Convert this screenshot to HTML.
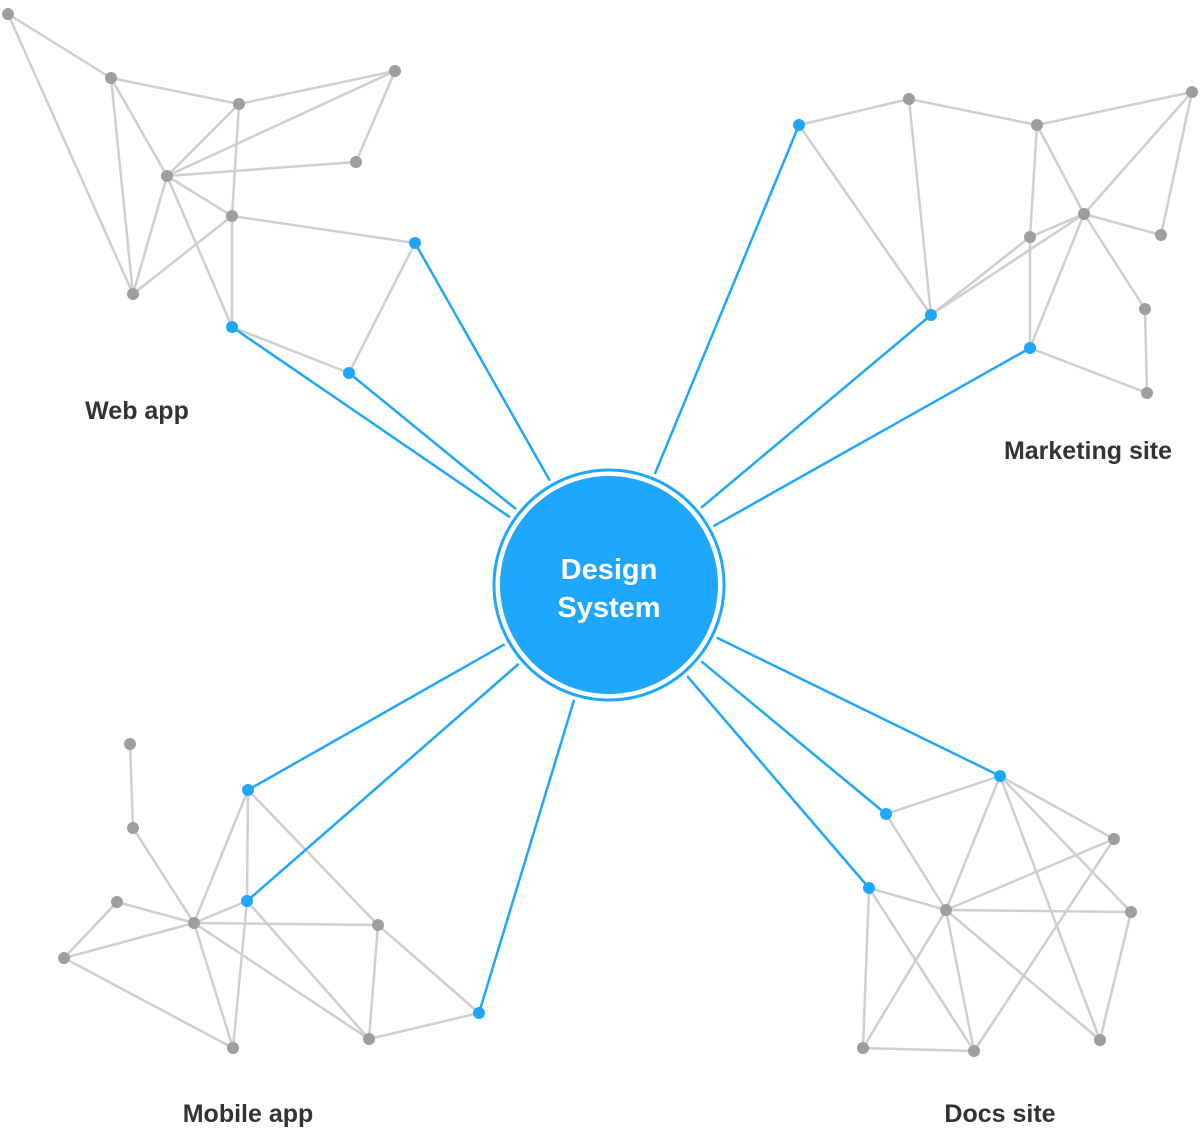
<!DOCTYPE html>
<html><head><meta charset="utf-8"><style>
html,body{margin:0;padding:0;background:#fff;}
svg{display:block}
text{font-family:"Liberation Sans",sans-serif;font-weight:bold;}
</style></head><body>
<svg width="1200" height="1144" viewBox="0 0 1200 1144" xmlns="http://www.w3.org/2000/svg">
<g stroke="#cfcfcf" stroke-width="2.5" fill="none">
<line x1="8" y1="14" x2="111" y2="78"/><line x1="8" y1="14" x2="133" y2="294"/>
<line x1="111" y1="78" x2="239" y2="104"/><line x1="111" y1="78" x2="167" y2="176"/><line x1="111" y1="78" x2="133" y2="294"/>
<line x1="239" y1="104" x2="395" y2="71"/><line x1="239" y1="104" x2="167" y2="176"/><line x1="239" y1="104" x2="232" y2="216"/>
<line x1="167" y1="176" x2="395" y2="71"/><line x1="167" y1="176" x2="356" y2="162"/><line x1="395" y1="71" x2="356" y2="162"/>
<line x1="167" y1="176" x2="232" y2="216"/><line x1="167" y1="176" x2="133" y2="294"/><line x1="167" y1="176" x2="232" y2="327"/>
<line x1="232" y1="216" x2="133" y2="294"/><line x1="232" y1="216" x2="232" y2="327"/><line x1="232" y1="216" x2="415" y2="243"/>
<line x1="232" y1="327" x2="349" y2="373"/><line x1="349" y1="373" x2="415" y2="243"/>
<line x1="799" y1="125" x2="909" y2="99"/><line x1="799" y1="125" x2="931" y2="315"/><line x1="909" y1="99" x2="931" y2="315"/>
<line x1="909" y1="99" x2="1037" y2="125"/><line x1="1037" y1="125" x2="1192" y2="92"/><line x1="1037" y1="125" x2="1084" y2="214"/>
<line x1="1037" y1="125" x2="1030" y2="237"/><line x1="1192" y1="92" x2="1084" y2="214"/><line x1="1192" y1="92" x2="1161" y2="235"/>
<line x1="1084" y1="214" x2="1161" y2="235"/><line x1="1084" y1="214" x2="1030" y2="237"/><line x1="1084" y1="214" x2="931" y2="315"/>
<line x1="1030" y1="237" x2="931" y2="315"/><line x1="1030" y1="237" x2="1030" y2="348"/><line x1="1084" y1="214" x2="1030" y2="348"/>
<line x1="1084" y1="214" x2="1145" y2="309"/><line x1="1145" y1="309" x2="1147" y2="393"/><line x1="1030" y1="348" x2="1147" y2="393"/>
<line x1="130" y1="744" x2="133" y2="828"/><line x1="133" y1="828" x2="194" y2="923"/><line x1="117" y1="902" x2="194" y2="923"/>
<line x1="117" y1="902" x2="64" y2="958"/><line x1="64" y1="958" x2="194" y2="923"/><line x1="64" y1="958" x2="233" y2="1048"/>
<line x1="194" y1="923" x2="233" y2="1048"/><line x1="194" y1="923" x2="248" y2="790"/><line x1="194" y1="923" x2="247" y2="901"/>
<line x1="194" y1="923" x2="378" y2="925"/><line x1="194" y1="923" x2="369" y2="1039"/><line x1="248" y1="790" x2="247" y2="901"/>
<line x1="248" y1="790" x2="378" y2="925"/><line x1="247" y1="901" x2="369" y2="1039"/><line x1="247" y1="901" x2="233" y2="1048"/>
<line x1="378" y1="925" x2="369" y2="1039"/><line x1="378" y1="925" x2="479" y2="1013"/><line x1="369" y1="1039" x2="479" y2="1013"/>
<line x1="886" y1="814" x2="1000" y2="776"/><line x1="886" y1="814" x2="946" y2="910"/><line x1="1000" y1="776" x2="946" y2="910"/>
<line x1="1000" y1="776" x2="1114" y2="839"/><line x1="1000" y1="776" x2="1131" y2="912"/><line x1="1000" y1="776" x2="1100" y2="1040"/>
<line x1="1114" y1="839" x2="946" y2="910"/><line x1="1114" y1="839" x2="974" y2="1051"/><line x1="1131" y1="912" x2="1100" y2="1040"/>
<line x1="869" y1="888" x2="946" y2="910"/><line x1="869" y1="888" x2="863" y2="1048"/><line x1="869" y1="888" x2="974" y2="1051"/>
<line x1="946" y1="910" x2="863" y2="1048"/><line x1="946" y1="910" x2="974" y2="1051"/><line x1="946" y1="910" x2="1131" y2="912"/>
<line x1="946" y1="910" x2="1100" y2="1040"/><line x1="863" y1="1048" x2="974" y2="1051"/>
</g>
<g stroke="#1fa7fd" stroke-width="2.5" fill="none">
<line x1="232" y1="327" x2="609" y2="585"/><line x1="349" y1="373" x2="609" y2="585"/><line x1="415" y1="243" x2="609" y2="585"/>
<line x1="799" y1="125" x2="609" y2="585"/><line x1="931" y1="315" x2="609" y2="585"/><line x1="1030" y1="348" x2="609" y2="585"/>
<line x1="248" y1="790" x2="609" y2="585"/><line x1="247" y1="901" x2="609" y2="585"/><line x1="479" y1="1013" x2="609" y2="585"/>
<line x1="1000" y1="776" x2="609" y2="585"/><line x1="886" y1="814" x2="609" y2="585"/><line x1="869" y1="888" x2="609" y2="585"/>
</g>
<g fill="#9e9e9e">
<circle cx="8" cy="14" r="6"/><circle cx="111" cy="78" r="6"/><circle cx="239" cy="104" r="6"/><circle cx="395" cy="71" r="6"/>
<circle cx="356" cy="162" r="6"/><circle cx="167" cy="176" r="6"/><circle cx="232" cy="216" r="6"/><circle cx="133" cy="294" r="6"/>
<circle cx="909" cy="99" r="6"/><circle cx="1037" cy="125" r="6"/><circle cx="1192" cy="92" r="6"/><circle cx="1084" cy="214" r="6"/>
<circle cx="1161" cy="235" r="6"/><circle cx="1030" cy="237" r="6"/><circle cx="1145" cy="309" r="6"/><circle cx="1147" cy="393" r="6"/>
<circle cx="130" cy="744" r="6"/><circle cx="133" cy="828" r="6"/><circle cx="117" cy="902" r="6"/><circle cx="64" cy="958" r="6"/>
<circle cx="194" cy="923" r="6"/><circle cx="378" cy="925" r="6"/><circle cx="233" cy="1048" r="6"/><circle cx="369" cy="1039" r="6"/>
<circle cx="1114" cy="839" r="6"/><circle cx="946" cy="910" r="6"/><circle cx="1131" cy="912" r="6"/><circle cx="863" cy="1048" r="6"/>
<circle cx="974" cy="1051" r="6"/><circle cx="1100" cy="1040" r="6"/>
</g>
<g fill="#1fa7fd">
<circle cx="232" cy="327" r="6"/><circle cx="349" cy="373" r="6"/><circle cx="415" cy="243" r="6"/>
<circle cx="799" cy="125" r="6"/><circle cx="931" cy="315" r="6"/><circle cx="1030" cy="348" r="6"/>
<circle cx="248" cy="790" r="6"/><circle cx="247" cy="901" r="6"/><circle cx="479" cy="1013" r="6"/>
<circle cx="1000" cy="776" r="6"/><circle cx="886" cy="814" r="6"/><circle cx="869" cy="888" r="6"/>
</g>
<circle cx="609" cy="585" r="120" fill="#fff"/>
<circle cx="609" cy="585" r="115" fill="#fff" stroke="#1fa7fd" stroke-width="3"/>
<circle cx="609" cy="585" r="109" fill="#1fa7fd"/>
<text x="609" y="579" fill="#fff" font-size="29" text-anchor="middle">Design</text>
<text x="609" y="617" fill="#fff" font-size="29" text-anchor="middle">System</text>
<g fill="#333" font-size="25" text-anchor="middle">
<text x="137" y="419">Web app</text>
<text x="1088" y="459">Marketing site</text>
<text x="248" y="1122">Mobile app</text>
<text x="1000" y="1122">Docs site</text>
</g>
</svg>
</body></html>
